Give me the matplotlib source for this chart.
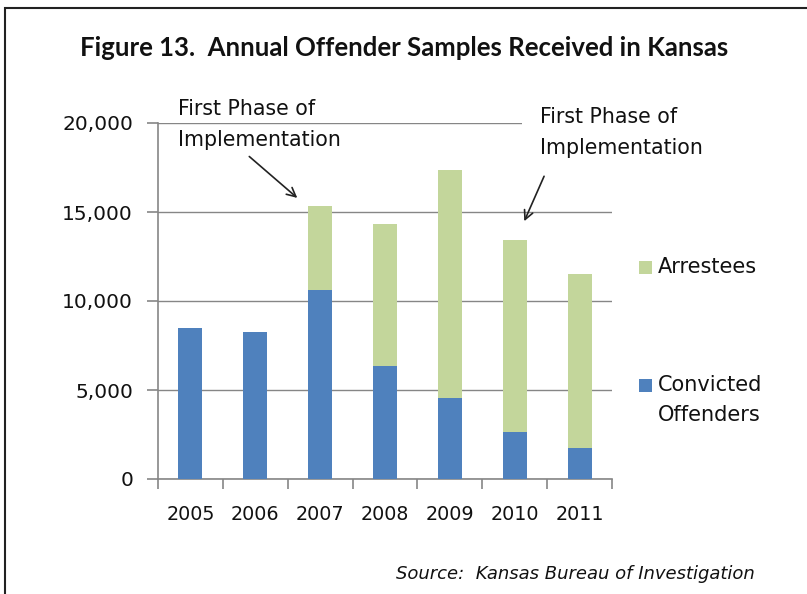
import matplotlib
matplotlib.use("Agg")
import matplotlib.pyplot as plt
from matplotlib.patches import Rectangle
import numpy as np

years = ["2005", "2006", "2007", "2008", "2009", "2010", "2011"]
convicted = [8470, 8270, 10630, 6350, 4540, 2620, 1760]
arrestees = [0, 0, 4700, 8000, 12820, 10780, 9730]
yticks = [0, 5000, 10000, 15000, 20000]
ytick_labels = ["0", "5,000", "10,000", "15,000", "20,000"]
legend_labels = ["Arrestees", ["Convicted", "Offenders"]]

W, H = 807, 594
plt.rcParams['font.family'] = ['DejaVu Sans']
fig = plt.figure(figsize=(W / 100, H / 100), dpi=100)

def fx(px):
    return px / W

def fy(py):
    return 1 - py / H

# outer border
fig.patches.append(Rectangle((fx(5), fy(800)), 1.2, fy(8) - fy(800), transform=fig.transFigure,
                             fill=False, edgecolor='#222222', linewidth=1.5))

ax = fig.add_axes([fx(158), fy(479), fx(612) - fx(158), fy(123) - fy(479)])
x = np.arange(len(years))
blue = '#4F81BD'
green = '#C3D69B'
ax.bar(x, convicted, width=0.37, color=blue, zorder=3)
ax.bar(x, arrestees, width=0.37, bottom=convicted, color=green, zorder=3)

ax.set_xlim(-0.5, len(years) - 0.5)
ax.set_ylim(0, 20000)
ax.set_yticks(yticks)
ax.set_yticklabels(ytick_labels, fontsize=14.5, color='#111111')
ax.set_xticks(x)
ax.set_xticklabels(years, fontsize=13.8, color='#111111')
ax.set_xticks(np.arange(-0.5, len(years), 1), minor=True)
ax.tick_params(axis='x', which='major', length=0, pad=19)
ax.tick_params(axis='x', which='minor', length=7, color='#868686', direction='out', width=1.2)
ax.tick_params(axis='y', length=8, color='#868686', direction='out', pad=10, width=1.2)
ax.yaxis.grid(True, color='#868686', linewidth=1, zorder=0)
for s in ['top', 'right']:
    ax.spines[s].set_visible(False)
for s in ['left', 'bottom']:
    ax.spines[s].set_color('#868686')
    ax.spines[s].set_linewidth(1.2)

# legend (manual, Excel-like)
sq = 13
for (py, col, lab) in [(267, green, legend_labels[0]), (385, blue, legend_labels[1])]:
    fig.patches.append(Rectangle((fx(639), fy(py + sq / 2)), fx(sq), fy(0) - fy(sq),
                                 transform=fig.transFigure, facecolor=col, edgecolor='none'))
    lines = lab if isinstance(lab, list) else [lab]
    for i, line in enumerate(lines):
        fig.text(fx(658), fy(py + 30 * i), line, ha='left', va='center', fontsize=15,
                 color='#111111')

# title
fig.text(fx(404), fy(48), "Figure 13.  Annual Offender Samples Received in Kansas",
         ha='center', va='center', fontsize=18.5, fontweight='bold', color='#111111',
         family=['Lato', 'DejaVu Sans'])

# white box behind right annotation (hides end of top gridline, as in the original)
fig.patches.append(Rectangle((fx(522), fy(160)), fx(100), fy(100) - fy(160),
                             transform=fig.transFigure, facecolor='white', edgecolor='none',
                             zorder=5))

# annotations
ann_lines = ["First Phase of", "Implementation"]
for (tx, ty) in [(178, 109), (540, 117)]:
    for i, line in enumerate(ann_lines):
        fig.text(fx(tx), fy(ty + 31 * i), line, ha='left', va='center', fontsize=14.8,
                 color='#111111', zorder=6)
ax.annotate("", xy=(1.68, 15690), xytext=(0.875, 18220),
            arrowprops=dict(arrowstyle='->', color='#222222', lw=1.2, mutation_scale=16))
ax.annotate("", xy=(5.13, 14340), xytext=(5.47, 17150),
            arrowprops=dict(arrowstyle='->', color='#222222', lw=1.2, mutation_scale=16))

fig.text(fx(755), fy(574), "Source:  Kansas Bureau of Investigation", ha='right', va='center',
         fontsize=13, style='italic', color='#111111')

fig.savefig("out.png", dpi=100)
